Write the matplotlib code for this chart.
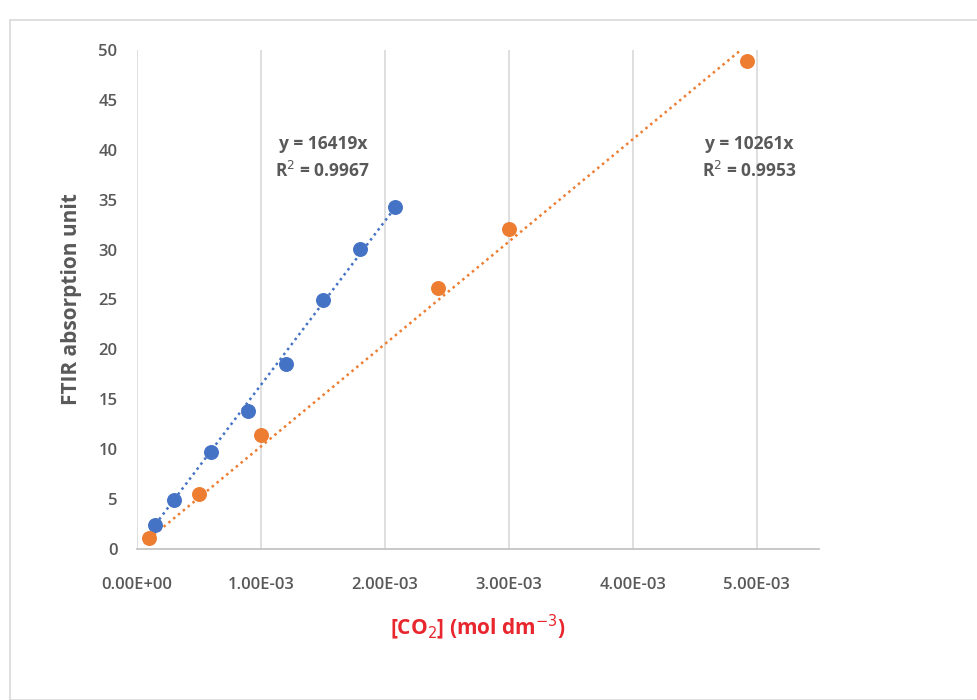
import numpy as np
import matplotlib
matplotlib.use("Agg")
from matplotlib import pyplot as plt
from matplotlib.patches import Rectangle

# blue series
x_blue = [1.5e-4, 3.0e-4, 6.0e-4, 9.0e-4, 1.2e-3, 1.5e-3, 1.8e-3, 2.08e-3]
y_blue = [2.4, 4.9, 9.7, 13.8, 18.5, 24.9, 30.1, 34.3]
slope_blue = 16419
label_blue = "y = 16419x\nR$^2$ = 0.9967"

# orange series
x_orange = [1.0e-4, 5.0e-4, 1.0e-3, 2.43e-3, 3.0e-3, 4.92e-3]
y_orange = [1.1, 5.5, 11.4, 26.1, 32.1, 48.9]
slope_orange = 10261
label_orange = "y = 10261x\nR$^2$ = 0.9953"

xticks = [0, 1e-3, 2e-3, 3e-3, 4e-3, 5e-3]
xticklabels = ["0.00E+00", "1.00E-03", "2.00E-03", "3.00E-03", "4.00E-03", "5.00E-03"]
yticks = list(range(0, 51, 5))

plt.rcParams['font.family'] = ['Open Sans', 'DejaVu Sans']

fig = plt.figure(figsize=(9.77, 7), dpi=100)
fig.patches.append(Rectangle((10/977, 0), 1.2, 1-20/700, transform=fig.transFigure,
                             fill=False, edgecolor='#d9d9d9', linewidth=1.2))
ax = fig.add_axes([0.140, 0.2157, 0.698, 0.713])

blue = '#4472C4'
orange = '#ED7D31'

# trend lines
xb = np.array([min(x_blue), max(x_blue)])
ax.plot(xb, slope_blue*xb, linestyle=(0, (1, 1.5)), color=blue, linewidth=1.8, zorder=2)
xo = np.array([min(x_orange), max(x_orange)])
ax.plot(xo, slope_orange*xo, linestyle=(0, (1, 1.5)), color=orange, linewidth=1.8, zorder=2)

ax.scatter(x_blue, y_blue, s=95, color=blue, zorder=3)
ax.scatter(x_orange, y_orange, s=95, color=orange, zorder=3)

ax.set_xlim(0, 5.5e-3)
ax.set_ylim(0, 50)
ax.set_xticks(xticks)
ax.set_xticklabels(xticklabels)
ax.set_yticks(yticks)
ax.grid(axis='x', color='#d9d9d9', linewidth=1.2)
ax.set_axisbelow(True)
for s in ['top', 'right', 'left']:
    ax.spines[s].set_visible(False)
ax.spines['bottom'].set_color('#bfbfbf')
ax.spines['bottom'].set_linewidth(1.2)
ax.tick_params(length=0, labelsize=12, labelcolor='#595959')
ax.tick_params(axis='x', pad=20)
ax.tick_params(axis='y', pad=14)
for t in ax.get_xticklabels() + ax.get_yticklabels():
    t.set_fontweight('semibold')

ax.set_ylabel("FTIR absorption unit", fontsize=15, fontweight='bold', color='#595959', labelpad=12)
ax.set_xlabel("[CO$_2$] (mol dm$^{-3}$)", fontsize=15, fontweight='bold', color='#e8262d', labelpad=14)

ax.text(1.5e-3, 39.2, label_blue, ha='center', va='center', fontsize=12.5,
        fontweight='bold', color='#595959', linespacing=1.5)
ax.text(4.94e-3, 39.2, label_orange, ha='center', va='center', fontsize=12.5,
        fontweight='bold', color='#595959', linespacing=1.5)

fig.savefig("out.png", dpi=100)
